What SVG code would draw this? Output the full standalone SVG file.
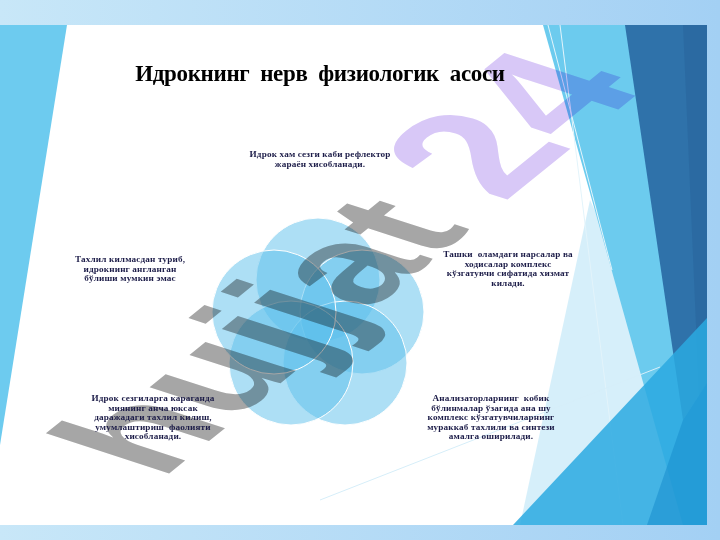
<svg xmlns="http://www.w3.org/2000/svg" width="720" height="540" viewBox="0 0 720 540">
<style>
.t{font-family:"Liberation Serif","Times New Roman",serif;font-weight:bold;font-size:9.2px;letter-spacing:0.15px;fill:#1c1c48;text-anchor:middle;white-space:pre}
.title{font-family:"Liberation Serif","Times New Roman",serif;font-weight:bold;font-size:23px;letter-spacing:-0.35px;fill:#000;text-anchor:middle;white-space:pre}
.c{fill:#5bc0eb;fill-opacity:.5;stroke:#fff;stroke-width:1}
.wm{font-family:"Liberation Sans",Arial,sans-serif;font-weight:bold;font-size:150px;mix-blend-mode:multiply}
</style>
<defs>
<linearGradient id="bg" x1="0" y1="0" x2="1" y2="0">
<stop offset="0" stop-color="#c8e7f8"/><stop offset="1" stop-color="#a3d0f4"/>
</linearGradient>
<clipPath id="slide"><rect x="0" y="25" width="707" height="500"/></clipPath>
</defs>
<g id="background">
<rect width="720" height="540" fill="url(#bg)"/>
<rect x="0" y="25" width="707" height="500" fill="#fff"/>
<g clip-path="url(#slide)">
<polygon points="0,25 67,25 0,445" fill="#6dcbef"/>
<polygon points="590,200 740,525 520,525" fill="#5bc0eb" fill-opacity=".25"/>
<polygon points="543,25 707,25 707,525 683,525" fill="#6ccbee"/>
<line x1="560" y1="25" x2="623" y2="525" stroke="#e3f4fb" stroke-width="1"/>
<line x1="548" y1="25" x2="612" y2="270" stroke="#e3f4fb" stroke-width="1"/>
<polygon points="625,25 707,25 707,383 683,420" fill="#2f72aa"/>
<polygon points="683,25 707,25 707,383 699,395" fill="#2a679e" fill-opacity=".7"/>
<polygon points="513,525 707,318 707,525" fill="#2aa9e0" fill-opacity=".85"/>
<polygon points="683,420 707,383 707,525 647,525" fill="#1b8fcf" fill-opacity=".6"/>
<line x1="320" y1="500" x2="660" y2="367" stroke="#d6eef9" stroke-width="1"/>
</g>
</g>
<g id="title"><text class="title" x="320" y="81">Идрокнинг  нерв  физиологик  асоси</text></g>
<g id="venn">
<circle id="c-top" class="c" cx="318" cy="280" r="62"/>
<circle id="c-ur" class="c" cx="362" cy="312" r="62"/>
<circle id="c-lr" class="c" cx="345" cy="363" r="62"/>
<circle id="c-ll" class="c" cx="291" cy="363" r="62"/>
<circle id="c-ul" class="c" cx="274" cy="312" r="62"/>
</g>
<g id="watermark">
<text class="wm" transform="translate(161,480) rotate(-39) skewX(33)"><tspan fill="#a6a6a6">hujjat</tspan><tspan fill="#d8c8f7" dx="40" style="font-size:168px">24</tspan></text>
</g>
<g id="label-top">
<text class="t" x="320" y="157">Идрок хам сезги каби рефлектор</text>
<text class="t" x="320" y="167">жараён хисобланади.</text>
</g>
<g id="label-left">
<text class="t" x="130" y="262">Тахлил килмасдан туриб,</text>
<text class="t" x="130" y="271.5">идрокнинг англанган</text>
<text class="t" x="130" y="281">бўлиши мумкин эмас</text>
</g>
<g id="label-right">
<text class="t" x="508" y="257">Ташки  оламдаги нарсалар ва</text>
<text class="t" x="508" y="266.5">ходисалар комплекс</text>
<text class="t" x="508" y="276">кўзгатувчи сифатида хизмат</text>
<text class="t" x="508" y="285.5">килади.</text>
</g>
<g id="label-bottom-left">
<text class="t" x="153" y="401">Идрок сезгиларга караганда</text>
<text class="t" x="153" y="410.5">миянинг анча юксак</text>
<text class="t" x="153" y="420">даражадаги тахлил килиш,</text>
<text class="t" x="153" y="429.5">умумлаштириш  фаолияти</text>
<text class="t" x="153" y="439">хисобланади.</text>
</g>
<g id="label-bottom-right">
<text class="t" x="491" y="401">Анализаторларнинг  кобик</text>
<text class="t" x="491" y="410.5">бўлинмалар ўзагида ана шу</text>
<text class="t" x="491" y="420">комплекс кўзгатувчиларнинг</text>
<text class="t" x="491" y="429.5">мураккаб тахлили ва синтези</text>
<text class="t" x="491" y="439">амалга оширилади.</text>
</g>
</svg>
